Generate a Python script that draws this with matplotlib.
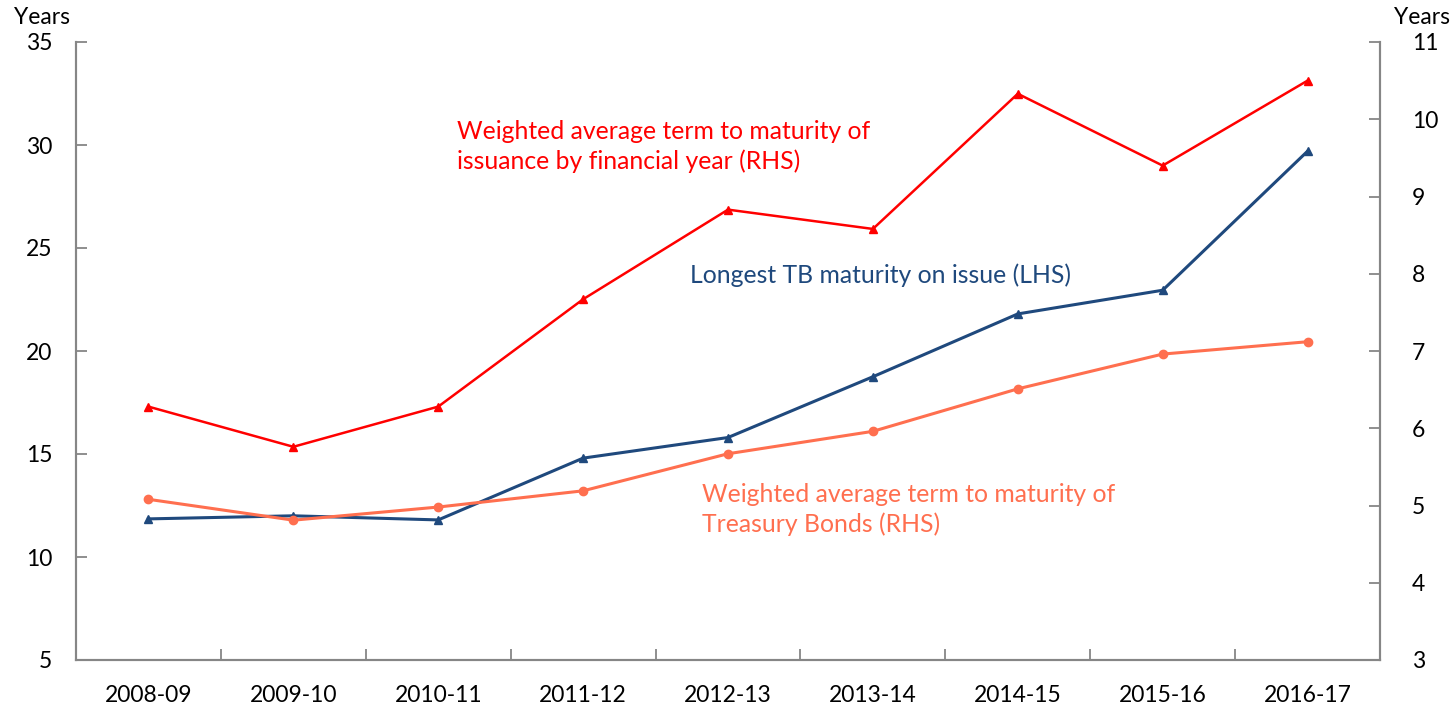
import matplotlib
matplotlib.use('Agg')
import matplotlib.pyplot as plt
import numpy as np

plt.rcParams['font.family'] = ['Lato', 'DejaVu Sans']

years = ['2008-09', '2009-10', '2010-11', '2011-12', '2012-13',
         '2013-14', '2014-15', '2015-16', '2016-17']
longest_tb = [11.85, 12.0, 11.8, 14.8, 15.8, 18.75, 21.8, 22.95, 29.7]      # LHS
wam_issuance = [6.28, 5.76, 6.28, 7.67, 8.83, 8.58, 10.33, 9.4, 10.5]      # RHS
wam_bonds = [5.08, 4.81, 4.98, 5.19, 5.67, 5.96, 6.51, 6.96, 7.12]         # RHS

c_blue = '#1F497D'
c_red = '#FF0000'
c_orange = '#FF6F4F'
c_axis = '#868686'

fig = plt.figure(figsize=(14.56, 7.09), dpi=100)
ax = fig.add_axes([76/1456, 1-660/709, (1380-76)/1456, (660-42)/709])
ax2 = ax.twinx()

x = np.arange(len(years))
ax.plot(x, longest_tb, color=c_blue, lw=2.2, marker='^', ms=6, zorder=3)
ax2.plot(x, wam_issuance, color=c_red, lw=1.8, marker='^', ms=6)
ax2.plot(x, wam_bonds, color=c_orange, lw=2.2, marker='o', ms=6)

ax.set_xlim(-0.5, len(years) - 0.5)
ax.set_ylim(5, 35)
ax.set_yticks(range(5, 36, 5))
ax2.set_ylim(3, 11)
ax2.set_yticks(range(3, 12))

ax.set_xticks(np.arange(0.5, len(years) - 1, 1))
ax.set_xticklabels([])
ax.set_xticks(x, minor=True)
ax.set_xticklabels(years, minor=True)
ax.tick_params(axis='x', which='major', direction='in', length=8, width=1.3, color=c_axis)
ax.tick_params(axis='x', which='minor', length=0, pad=18, labelsize=16.5)
ax.tick_params(axis='y', direction='in', length=8, width=1.3, color=c_axis, labelsize=16.5, pad=17)
ax2.tick_params(axis='y', direction='in', length=8, width=1.3, color=c_axis, labelsize=16.5, pad=23)

for a in (ax, ax2):
    a.spines['top'].set_visible(False)
    for s in ('left', 'right', 'bottom'):
        a.spines[s].set_color(c_axis)
        a.spines[s].set_linewidth(1.5)

fig.text(42/1456, 1-18/709, 'Years', ha='center', va='center', fontsize=16.5)
fig.text(1422/1456, 1-18/709, 'Years', ha='center', va='center', fontsize=16.5)

ax2.text(2.13, 9.65, 'Weighted average term to maturity of\nissuance by financial year (RHS)',
         color=c_red, fontsize=17.8, ha='left', va='center', linespacing=1.3)
ax.text(3.74, 23.7, 'Longest TB maturity on issue (LHS)',
        color=c_blue, fontsize=17.8, ha='left', va='center')
ax2.text(3.82, 4.95, 'Weighted average term to maturity of\nTreasury Bonds (RHS)',
         color=c_orange, fontsize=17.8, ha='left', va='center', linespacing=1.3)

fig.savefig('out.png', dpi=100)
